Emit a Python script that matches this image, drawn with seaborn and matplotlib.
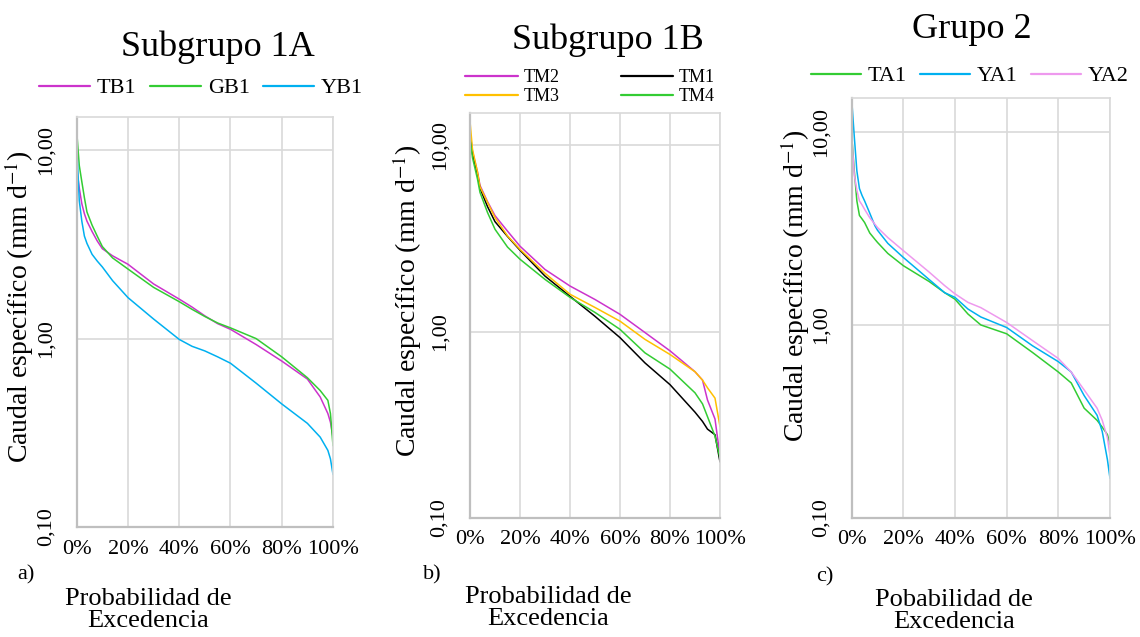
import pandas as pd
import matplotlib
matplotlib.use("Agg")
import matplotlib.pyplot as plt
from matplotlib.ticker import FixedLocator, FixedFormatter, PercentFormatter, NullLocator
import seaborn as sns

# Panel a) Subgrupo 1A
x_a = [0, 1, 2, 3, 4, 6, 8, 10, 14, 20, 30, 40, 45, 50, 55, 60, 70, 80, 90, 95, 98, 99, 100]
tb1 = [8.0, 6.3, 5.2, 4.6, 4.2, 3.7, 3.3, 3.0, 2.75, 2.48, 1.95, 1.62, 1.47, 1.32, 1.2, 1.12, 0.93, 0.76, 0.61, 0.49, 0.40, 0.36, 0.30]
gb1 = [12.6, 8.3, 6.8, 5.6, 4.7, 4.0, 3.5, 3.08, 2.68, 2.34, 1.87, 1.57, 1.43, 1.31, 1.21, 1.14, 1.0, 0.80, 0.62, 0.53, 0.47, 0.40, 0.27]
yb1 = [10.7, 5.4, 4.2, 3.5, 3.2, 2.8, 2.58, 2.4, 2.03, 1.65, 1.27, 0.99, 0.91, 0.86, 0.8, 0.74, 0.58, 0.45, 0.355, 0.30, 0.255, 0.23, 0.19]

# Panel b) Subgrupo 1B
x_b = [0, 1, 3, 4, 7, 10, 15, 20, 30, 40, 50, 60, 70, 80, 90, 93, 95, 98, 100]
tm2 = [11.8, 9.3, 7.2, 6.1, 5.0, 4.2, 3.47, 2.88, 2.16, 1.76, 1.49, 1.24, 0.99, 0.79, 0.61, 0.55, 0.43, 0.34, 0.215]
tm1 = [11.2, 9.0, 7.0, 5.9, 4.7, 3.9, 3.25, 2.74, 1.99, 1.55, 1.21, 0.93, 0.68, 0.52, 0.37, 0.33, 0.30, 0.28, 0.20]
tm3 = [13.5, 9.5, 7.2, 6.0, 4.95, 4.1, 3.27, 2.77, 2.06, 1.59, 1.35, 1.14, 0.91, 0.755, 0.61, 0.55, 0.50, 0.44, 0.31]
tm4 = [10.9, 8.6, 6.6, 5.6, 4.37, 3.55, 2.85, 2.45, 1.91, 1.53, 1.27, 1.03, 0.77, 0.63, 0.47, 0.41, 0.35, 0.275, 0.21]

# Panel c) Grupo 2
x_c = [0, 1, 2, 3, 4, 5, 7, 9, 10, 14, 20, 30, 36, 40, 45, 50, 60, 70, 80, 85, 90, 95, 97, 99, 100]
ta1 = [9.6, 6.3, 4.4, 3.7, 3.55, 3.4, 3.0, 2.78, 2.68, 2.35, 2.03, 1.68, 1.47, 1.36, 1.14, 1.0, 0.90, 0.72, 0.57, 0.50, 0.37, 0.32, 0.295, 0.27, 0.24]
ya1 = [14.8, 9.5, 6.3, 5.1, 4.7, 4.4, 3.8, 3.27, 3.1, 2.65, 2.24, 1.72, 1.47, 1.39, 1.21, 1.10, 0.97, 0.78, 0.645, 0.57, 0.43, 0.34, 0.28, 0.20, 0.16]
ya2 = [9.6, 6.0, 5.0, 4.4, 4.2, 3.98, 3.6, 3.33, 3.2, 2.84, 2.43, 1.88, 1.6, 1.45, 1.31, 1.23, 1.03, 0.83, 0.67, 0.57, 0.46, 0.37, 0.32, 0.26, 0.21]

y_ticks = [0.1, 1, 10]
y_tick_labels = ["0,10", "1,00", "10,00"]
x_ticks = [0, 20, 40, 60, 80, 100]

sns.set_style("white")
plt.rcParams['font.family'] = ['Liberation Serif', 'DejaVu Serif']
plt.rcParams['mathtext.fontset'] = 'stix'
plt.rcParams['text.color'] = 'black'
plt.rcParams['xtick.color'] = 'black'
plt.rcParams['ytick.color'] = 'black'

def long_df(x, series):
    rows = []
    for name, vals in series.items():
        for xi, vi in zip(x, vals):
            rows.append({"pct": xi, "q": vi, "serie": name})
    return pd.DataFrame(rows)

def style_axis(ax):
    ax.set_yscale("log")
    ax.set_ylim(0.1, 15)
    ax.set_xlim(0, 100)
    ax.yaxis.set_major_locator(FixedLocator(y_ticks))
    ax.yaxis.set_major_formatter(FixedFormatter(y_tick_labels))
    ax.yaxis.set_minor_locator(NullLocator())
    ax.xaxis.set_major_locator(FixedLocator(x_ticks))
    ax.xaxis.set_major_formatter(PercentFormatter(decimals=0))
    ax.grid(True, color="#d9d9d9", lw=1.2)
    ax.tick_params(axis="both", length=0, labelsize=16, colors="black")
    ax.tick_params(axis="y", pad=15)
    ax.tick_params(axis="x", pad=9)
    for lbl in ax.get_yticklabels():
        lbl.set_rotation(90)
        lbl.set_va("center")
    for side in ["top", "right"]:
        ax.spines[side].set_color("#d9d9d9")
        ax.spines[side].set_linewidth(1.2)
    for side in ["left", "bottom"]:
        ax.spines[side].set_color("#bfbfbf")
        ax.spines[side].set_linewidth(1.6)
    ax.set_xlabel("")
    ax.set_ylabel("")

fig = plt.figure(figsize=(11.4, 6.37), dpi=100)
W, H = 1140, 637

def add_ax(left, right, top, bottom):
    return fig.add_axes([left / W, 1 - bottom / H, (right - left) / W, (bottom - top) / H])

panels = [
    dict(box=(76.7, 333, 117, 527), x=x_a,
         series={"TB1": tb1, "GB1": gb1, "YB1": yb1},
         colors={"TB1": "#cc33cc", "GB1": "#33cc33", "YB1": "#00b0f0"},
         leg_order=["TB1", "GB1", "YB1"],
         title="Subgrupo 1A", title_xy=(218, 47),
         leg=dict(xy=(201, 88), ncol=3, size=16, hl=2.3, cs=0.6, ls=0.3),
         ylab_xy=(19, 307), tag="a)", tag_xy=(26, 575),
         xlab="Probabilidad de\nExcedencia", xlab_xy=(148, 610)),
    dict(box=(470, 720, 112.7, 518), x=x_b,
         series={"TM2": tm2, "TM1": tm1, "TM3": tm3, "TM4": tm4},
         colors={"TM2": "#cc33cc", "TM1": "#000000", "TM3": "#ffc000", "TM4": "#33cc33"},
         leg_order=["TM2", "TM3", "TM1", "TM4"],
         title="Subgrupo 1B", title_xy=(608, 40),
         leg=dict(xy=(590, 87), ncol=2, size=13, hl=2.9, cs=3.4, ls=0.12),
         ylab_xy=(407, 301), tag="b)", tag_xy=(432, 575),
         xlab="Probabilidad de\nExcedencia", xlab_xy=(548, 608)),
    dict(box=(851.7, 1110, 98.3, 517.7), x=x_c,
         series={"TA1": ta1, "YA1": ya1, "YA2": ya2},
         colors={"TA1": "#33cc33", "YA1": "#00b0f0", "YA2": "#ee99ee"},
         leg_order=["TA1", "YA1", "YA2"],
         title="Grupo 2", title_xy=(972, 30),
         leg=dict(xy=(970, 76), ncol=3, size=16, hl=2.25, cs=0.6, ls=0.3),
         ylab_xy=(795, 286), tag="c)", tag_xy=(825, 577),
         xlab="Pobabilidad de\nExcedencia", xlab_xy=(954, 611)),
]

for p in panels:
    ax = add_ax(*p["box"])
    df = long_df(p["x"], p["series"])
    sns.lineplot(data=df, x="pct", y="q", hue="serie", hue_order=list(p["series"].keys()),
                 palette=p["colors"], lw=1.1, ax=ax, legend=True)
    style_axis(ax)
    handles, labels = ax.get_legend_handles_labels()
    by_label = dict(zip(labels, handles))
    handles = [by_label[k] for k in p["leg_order"]]
    for h in handles:
        h.set_linewidth(1.6)
    lg = p["leg"]
    ax.legend(handles, p["leg_order"], loc="center",
              bbox_to_anchor=(lg["xy"][0] / W, 1 - lg["xy"][1] / H),
              bbox_transform=fig.transFigure, ncol=lg["ncol"], frameon=False,
              fontsize=lg["size"], handlelength=lg["hl"], handletextpad=0.3,
              columnspacing=lg["cs"], labelspacing=lg["ls"], borderpad=0, borderaxespad=0)
    fig.text(p["title_xy"][0] / W, 1 - p["title_xy"][1] / H, p["title"],
             fontsize=26, ha="center", va="center")
    fig.text(p["ylab_xy"][0] / W, 1 - p["ylab_xy"][1] / H,
             "Caudal específico (mm d$^{-1}$)", fontsize=20, rotation=90,
             ha="center", va="center")
    fig.text(p["tag_xy"][0] / W, 1 - p["tag_xy"][1] / H, p["tag"],
             fontsize=16, ha="center", va="center")
    fig.text(p["xlab_xy"][0] / W, 1 - p["xlab_xy"][1] / H, p["xlab"],
             fontsize=19, ha="center", va="center", linespacing=1.05)

fig.savefig("out.png", dpi=100)
